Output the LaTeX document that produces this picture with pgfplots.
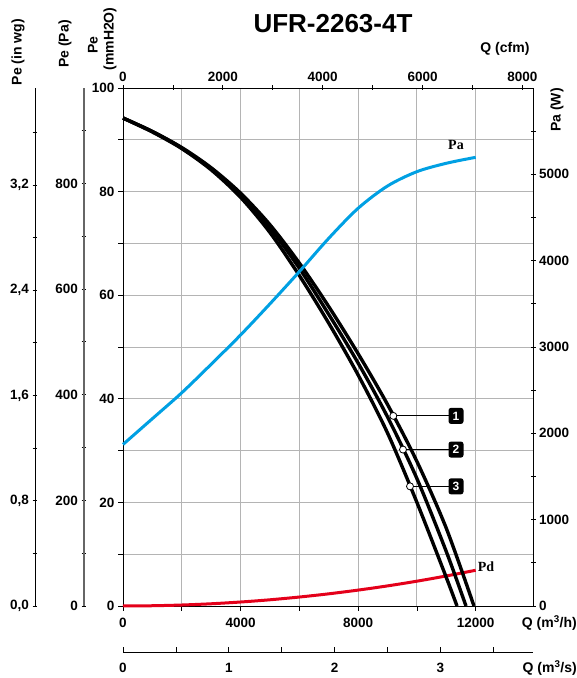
\documentclass[border=0pt]{standalone}
\usepackage{fontspec}
\setmainfont{Liberation Sans}
\newfontfamily\lserif{Liberation Serif}
\usepackage{pgfplots}
\pgfplotsset{compat=1.18}
\definecolor{pacol}{RGB}{0,160,227}
\definecolor{pdcol}{RGB}{228,0,26}
\definecolor{gridc}{RGB}{180,180,180}
\newcommand{\tk}{\fontsize{13.5}{14}\selectfont\bfseries}
\newcommand{\lb}{\fontsize{14}{15}\selectfont\bfseries}
\pgfplotsset{
  base/.style={scale only axis, anchor=south west,
    tick label style={font=\tk, text=black},
    /pgf/number format/assume math mode=true,
    scaled ticks=false,
    tick align=outside, major tick length=5pt,
    axis line style={line width=0.8pt},
    every tick/.style={black, line width=0.8pt}, clip=false},
  noarrows/.style={every outer x axis line/.append style={-},
    every outer y axis line/.append style={-},
    every inner x axis line/.append style={-},
    every inner y axis line/.append style={-}},
}
\begin{document}
\begin{tikzpicture}[x=1pt,y=1pt]
\path[use as bounding box] (0,0) rectangle (577,678);

% Pe (in wg) axis
\begin{axis}[base, at={(35pt,72pt)}, width=1pt, height=518pt,
  xmin=0, xmax=1, ymin=0, ymax=3.937,
  hide x axis, axis y line=left, noarrows,
  ytick={0,0.4,0.8,1.2,1.6,2.0,2.4,2.8,3.2,3.6},
  yticklabels={{0,0},,{0,8},,{1,6},,{2,4},,{3,2},}]
\end{axis}

% Pe (Pa) axis
\begin{axis}[base, at={(84pt,72pt)}, width=1pt, height=518pt,
  xmin=0, xmax=1, ymin=0, ymax=980.665,
  hide x axis, axis y line=left, noarrows,
  y axis line style={line width=1.6pt, black!60},
  ytick={0,100,...,900},
  yticklabels={0,,200,,400,,600,,800,}]
\end{axis}

% Main axis: Q (m3/h) vs Pe (mmH2O)
\begin{axis}[base, at={(123pt,72pt)}, width=410pt, height=518pt,
  xmin=0, xmax=13950, ymin=0, ymax=100,
  xtick={0,2000,...,12000}, xticklabels={0,,4000,,8000,,12000},
  ytick={0,10,...,100}, yticklabels={0,,20,,40,,60,,80,,100},
  xtick pos=left, ytick pos=left,
  xticklabel style={yshift=-4pt},
  grid=major, grid style={gridc, line width=0.9pt}]
% Pd
\addplot[pdcol, line width=3pt, smooth] coordinates {
 (0,0) (1000,0.05) (2000,0.19) (3000,0.43) (4000,0.77) (5000,1.2)
 (6000,1.73) (7000,2.35) (8000,3.07) (9000,3.88) (10000,4.79)
 (11000,5.8) (12000,6.9)};
% Pe curves
\addplot[black, line width=3.4pt, smooth] coordinates {
 (0,94.2) (1000,91.6) (2000,88.5) (3000,84.6) (4000,79.7) (5000,73.6)
 (6000,66.2) (7000,57.8) (8000,48.7) (9000,38.9) (10000,27.9)
 (11000,15.0) (11942,0)};
\addplot[black, line width=3.4pt, smooth] coordinates {
 (0,94.2) (1000,91.6) (2000,88.4) (3000,84.4) (4000,79.3) (5000,73.0)
 (6000,65.2) (7000,56.3) (8000,46.9) (9000,36.5) (10000,24.6)
 (11000,10.5) (11670,0)};
\addplot[black, line width=3.4pt, smooth] coordinates {
 (0,94.2) (1000,91.5) (2000,88.3) (3000,84.2) (4000,78.9) (5000,72.1)
 (6000,63.8) (7000,54.6) (8000,44.6) (9000,33.4) (10000,20.0)
 (11000,5.5) (11364,0)};
% leader lines
\addplot[black, line width=0.9pt] coordinates {(9197,36.7) (11100,36.7)};
\addplot[black, line width=0.9pt] coordinates {(9527,30.2) (11100,30.2)};
\addplot[black, line width=0.9pt] coordinates {(9765,23.1) (11100,23.1)};
% circles
\addplot[only marks, mark=*, mark size=3.5pt,
  mark options={fill=white, draw=black, line width=0.8pt}] coordinates {
 (9197,36.7) (9527,30.2) (9765,23.1)};
\foreach \n/\yy in {1/36.7, 2/30.2, 3/23.1}{
  \edef\tmp{\noexpand\node[fill=black, text=white, rounded corners=2.5pt,
    font=\noexpand\bfseries\noexpand\fontsize{12}{12}\noexpand\selectfont,
    minimum width=15pt, minimum height=16pt, inner sep=0pt]
    at (axis cs:11330,\yy) {\n};}
  \tmp
}
\node[font=\lserif\bfseries\fontsize{14}{14}\selectfont] at (axis cs:12351,7.5) {Pd};
\end{axis}

% Top axis: Q (cfm)
\begin{axis}[base, at={(123pt,72pt)}, width=410pt, height=518pt,
  xmin=0, xmax=8210.6, ymin=0, ymax=1,
  axis x line=top, hide y axis, noarrows,
  xtick={0,1000,...,8000}, xticklabels={0,,2000,,4000,,6000,,8000}]
\end{axis}

% Right axis: Pa (W)
\begin{axis}[base, at={(123pt,72pt)}, width=410pt, height=518pt,
  xmin=0, xmax=13950, ymin=0, ymax=6000,
  axis y line=right, hide x axis, noarrows,
  ytick={0,500,...,5500}, yticklabels={0,,1000,,2000,,3000,,4000,,5000,}]
\addplot[pacol, line width=3pt, smooth] coordinates {
 (0,1871) (1000,2170) (2000,2470) (3000,2800) (4000,3139) (5000,3500)
 (6000,3873) (7000,4259) (8000,4607) (9000,4865) (10000,5031)
 (11000,5128) (12000,5197)};
\node[font=\lserif\bfseries\fontsize{14}{14}\selectfont] at (axis cs:11330,5340) {Pa};
\end{axis}

% Bottom axis: Q (m3/s)
\begin{axis}[base, at={(123pt,26pt)}, width=410pt, height=1pt,
  xmin=0, xmax=3.875, ymin=0, ymax=1,
  axis x line=bottom, hide y axis, noarrows, tick align=inside,
  xticklabel style={yshift=-8pt},
  xtick={0,0.5,...,3.5}, xticklabels={0,,1,,2,,3,}]
\end{axis}

% labels
\node[font=\bfseries\fontsize{26}{26}\selectfont] at (333,654) {UFR-2263-4T};
\node[font=\lb, anchor=east] at (533,629) {Q (cfm)};
\node[font=\lb, rotate=90] at (557,568) {Pa (W)};
\node[font=\lb, anchor=east, inner sep=0pt] at (577,55) {Q (m\textsuperscript{3}/h)};
\node[font=\lb, anchor=east, inner sep=0pt] at (577,10) {Q (m\textsuperscript{3}/s)};
\node[font=\lb, rotate=90] at (18,626) {Pe (in wg)};
\node[font=\lb, rotate=90] at (65,634) {Pe (Pa)};
\node[font=\lb, rotate=90] at (93,633) {Pe};
\node[font=\lb, rotate=90] at (110,639) {(mmH2O)};
\end{tikzpicture}
\end{document}
